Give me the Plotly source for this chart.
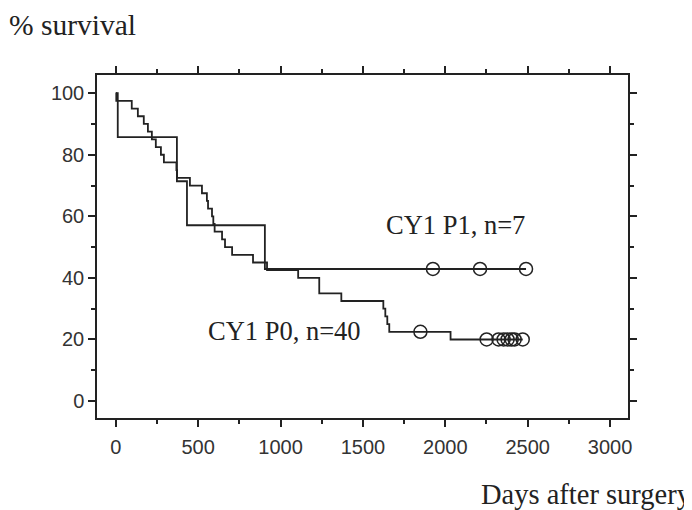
import plotly.graph_objects as go

# ---- data ----
p1_days = [0, 12, 371, 432, 905, 2490]
p1_surv = [100, 85.7, 71.4, 57.1, 42.9, 42.9]
p1_cens_days = [1925, 2211, 2490]
p1_cens_surv = [42.9, 42.9, 42.9]

p0_days = [0, 3, 97, 134, 170, 195, 219, 243, 274, 292, 368, 372, 450, 523, 553, 560,
           584, 592, 600, 645, 663, 706, 833, 918, 1107, 1235, 1369, 1624, 1636, 1648,
           1660, 2032, 2470]
p0_surv = [100, 97.5, 95, 92.5, 90, 87.5, 85, 82.5, 80, 77.5, 75, 72.5, 70, 67.5, 65, 62.5,
           60, 57.5, 55, 52.5, 50, 47.5, 45, 42.5, 40, 35, 32.5, 30, 27.5, 25,
           22.5, 20, 20]
p0_cens_days = [1849, 2251, 2323, 2354, 2378, 2403, 2421, 2470]
p0_cens_surv = [22.5, 20, 20, 20, 20, 20, 20, 20]

x_ticks = [0, 500, 1000, 1500, 2000, 2500, 3000]
y_ticks = [0, 20, 40, 60, 80, 100]

INK = "#222222"
SERIF = "Liberation Serif, Times New Roman, serif"

fig = go.Figure()
fig.add_trace(go.Scatter(x=p1_days, y=p1_surv, mode="lines", line_shape="hv",
                         line=dict(color=INK, width=1.8), showlegend=False))
fig.add_trace(go.Scatter(x=p0_days, y=p0_surv, mode="lines", line_shape="hv",
                         line=dict(color=INK, width=1.8), showlegend=False))
fig.add_trace(go.Scatter(x=p1_cens_days, y=p1_cens_surv, mode="markers",
                         marker=dict(symbol="circle-open", size=13, color=INK,
                                     line=dict(width=1.5)), showlegend=False))
fig.add_trace(go.Scatter(x=p0_cens_days, y=p0_cens_surv, mode="markers",
                         marker=dict(symbol="circle-open", size=13, color=INK,
                                     line=dict(width=1.5)), showlegend=False))

axis_common = dict(
    showline=True, linecolor=INK, linewidth=1.5, mirror="allticks",
    ticks="outside", ticklen=7, tickwidth=1.5, tickcolor=INK,
    showgrid=False, zeroline=False,
    tickfont=dict(family="Liberation Sans, Arial, sans-serif", size=20, color="#333333"),
)

fig.update_xaxes(range=[-114, 3109], tickmode="array", tickvals=x_ticks,
                 ticklabelstandoff=3,
                 minor=dict(dtick=250, tick0=0, ticks="outside", ticklen=4,
                            tickwidth=1.5, tickcolor=INK),
                 **axis_common)
fig.update_yaxes(range=[-5.5, 105.9], tickmode="array", tickvals=y_ticks,
                 minor=dict(dtick=10, tick0=0, ticks="outside", ticklen=4,
                            tickwidth=1.5, tickcolor=INK),
                 **axis_common)

fig.add_annotation(x=2062, y=57.2, xref="x", yref="y", text="CY1 P1, n=7",
                   showarrow=False, font=dict(family=SERIF, size=26.5, color=INK))
fig.add_annotation(x=1021, y=22.9, xref="x", yref="y", text="CY1 P0, n=40",
                   showarrow=False, font=dict(family=SERIF, size=26.5, color=INK))
fig.add_annotation(x=-0.1686, y=1.198, xref="paper", yref="paper", text="% survival",
                   xanchor="left", yanchor="top", showarrow=False,
                   font=dict(family=SERIF, size=29.5, color=INK))
fig.add_annotation(x=1.124, y=-0.274, xref="paper", yref="paper", text="Days after surgery",
                   xanchor="right", yanchor="bottom", showarrow=False,
                   font=dict(family=SERIF, size=28.5, color=INK))

# the page body adds an 8px offset, so margins are shifted to compensate
fig.update_layout(width=692, height=510, margin=dict(l=89, r=72, t=67, b=100),
                  plot_bgcolor="white", paper_bgcolor="white")

fig.write_html("out.html")
